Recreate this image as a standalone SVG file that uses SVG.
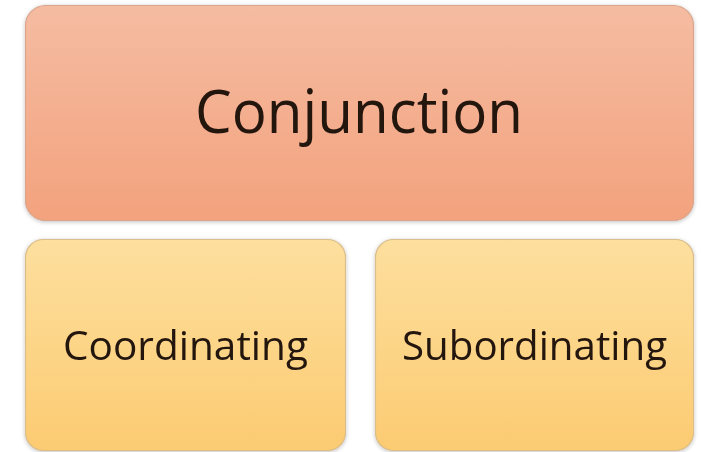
<svg xmlns="http://www.w3.org/2000/svg" width="701" height="452" viewBox="0 0 701 452">
<defs>
<linearGradient id="gTop" x1="0" y1="0" x2="0" y2="1">
<stop offset="0" stop-color="#F5BCA2"/>
<stop offset="1" stop-color="#F3A27D"/>
</linearGradient>
<linearGradient id="gBot" x1="0" y1="0" x2="0" y2="1">
<stop offset="0" stop-color="#FDDF9E"/>
<stop offset="1" stop-color="#FCCB72"/>
</linearGradient>
<filter id="sh" x="-5%" y="-5%" width="110%" height="115%">
<feGaussianBlur in="SourceAlpha" stdDeviation="2"/>
<feOffset dx="0" dy="1" result="b"/>
<feComponentTransfer><feFuncA type="linear" slope="0.25"/></feComponentTransfer>
<feMerge><feMergeNode/><feMergeNode in="SourceGraphic"/></feMerge>
</filter>
</defs>
<style>
.top{fill:url(#gTop);stroke:#D9A58C;stroke-width:1.2}
.bot{fill:url(#gBot);stroke:#D9BE8A;stroke-width:1.2}
.t{font-family:"Open Sans","Liberation Sans",sans-serif;fill:#241410;text-anchor:start}
</style>
<rect width="701" height="452" fill="#ffffff"/>
<g id="conjunction" filter="url(#sh)">
<rect class="top" x="25.5" y="5.5" width="668" height="215" rx="20"/>
<text class="t" x="195" y="133" font-size="60" textLength="328" lengthAdjust="spacingAndGlyphs">Conjunction</text>
</g>
<g id="coordinating" filter="url(#sh)">
<rect class="bot" x="25.5" y="239.5" width="320" height="211" rx="18"/>
<text class="t" x="63" y="360" font-size="40" textLength="245" lengthAdjust="spacingAndGlyphs">Coordinating</text>
</g>
<g id="subordinating" filter="url(#sh)">
<rect class="bot" x="375.5" y="239.5" width="318" height="211" rx="18"/>
<text class="t" x="402" y="360" font-size="40" textLength="265" lengthAdjust="spacingAndGlyphs">Subordinating</text>
</g>
<g id="connectors"/>
</svg>
